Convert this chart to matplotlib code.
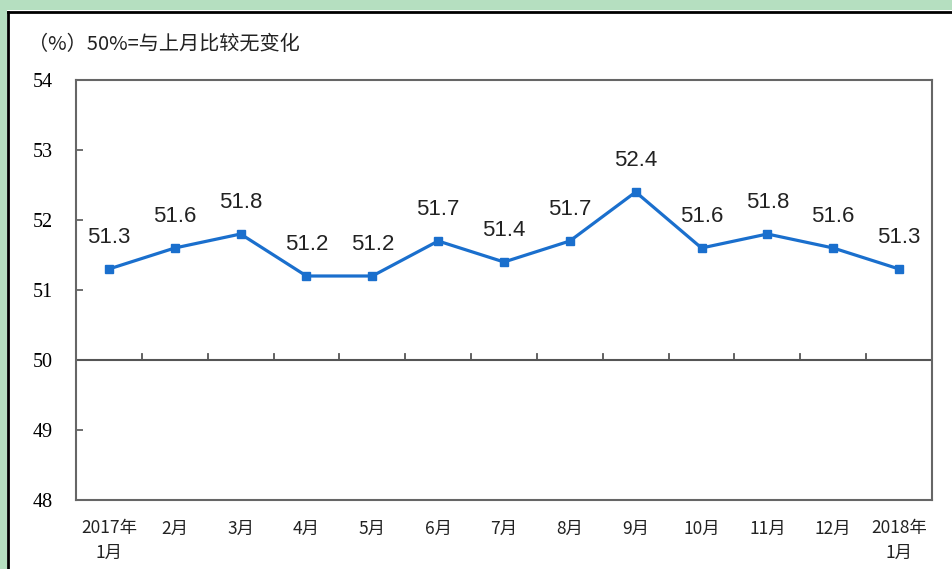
import matplotlib.pyplot as plt
from matplotlib.patches import Rectangle
from matplotlib.lines import Line2D

# 数据
months = ["2017年\n1月", "2月", "3月", "4月", "5月", "6月", "7月",
          "8月", "9月", "10月", "11月", "12月", "2018年\n1月"]
values = [51.3, 51.6, 51.8, 51.2, 51.2, 51.7, 51.4, 51.7, 52.4, 51.6, 51.8, 51.6, 51.3]
yticks = [48, 49, 50, 51, 52, 53, 54]

W, H = 953, 569
fig = plt.figure(figsize=(W / 100, H / 100), dpi=100)

# 绿色边框 + 黑线
green = "#b5dfc0"
fig.patches.append(Rectangle((0, 1 - 10 / H), 1, 10 / H, transform=fig.transFigure,
                             facecolor=green, edgecolor="none"))
fig.patches.append(Rectangle((0, 0), 7 / W, 1, transform=fig.transFigure,
                             facecolor=green, edgecolor="none"))
fig.lines.append(Line2D([8.5 / W, 1], [1 - 11.5 / H, 1 - 11.5 / H], transform=fig.transFigure,
                        color="black", lw=2))
fig.lines.append(Line2D([8.5 / W, 8.5 / W], [0, 1 - 11.5 / H], transform=fig.transFigure,
                        color="black", lw=2))

ax = fig.add_axes([76 / W, 69 / H, 856 / W, 420 / H])
x = list(range(len(values)))
ax.plot(x, values, color="#1a6fcd", lw=2.3, marker="s", markersize=5.5)

for xi, v in zip(x, values):
    ax.annotate(f"{v}", (xi, v), xytext=(0, 15), textcoords="offset points",
                ha="center", va="bottom", fontsize=16, family="Liberation Sans",
                color="#222222")

ax.set_xlim(-0.5, len(values) - 0.5)
ax.set_ylim(48, 54)

for s in ax.spines.values():
    s.set_color("#666666")
    s.set_linewidth(1.5)

# 50 处的横轴线和向上的刻度
ax.axhline(50, color="#555555", lw=1.5)
for b in range(1, len(values)):
    ax.plot([b - 0.5, b - 0.5], [50, 50.09], color="#555555", lw=1.3)

ax.set_yticks(yticks)
ax.set_yticklabels([str(t) for t in yticks], family="Liberation Serif", fontsize=14.5)
ax.tick_params(axis="y", direction="in", length=5, width=1.2, color="#555555", pad=17)
ax.set_xticks(x)
ax.set_xticklabels(months, family=["Noto Sans CJK SC", "DejaVu Sans"], fontsize=12.5,
                   linespacing=1.45, va="top", color="#222222")
ax.tick_params(axis="x", length=0, pad=14)

fig.text(28 / W, 1 - 45 / H, "（%）50%=与上月比较无变化", family=["Noto Sans CJK SC", "DejaVu Sans"],
         fontsize=14.5, va="center", ha="left", color="#222222")

fig.savefig("out.png", dpi=100)
